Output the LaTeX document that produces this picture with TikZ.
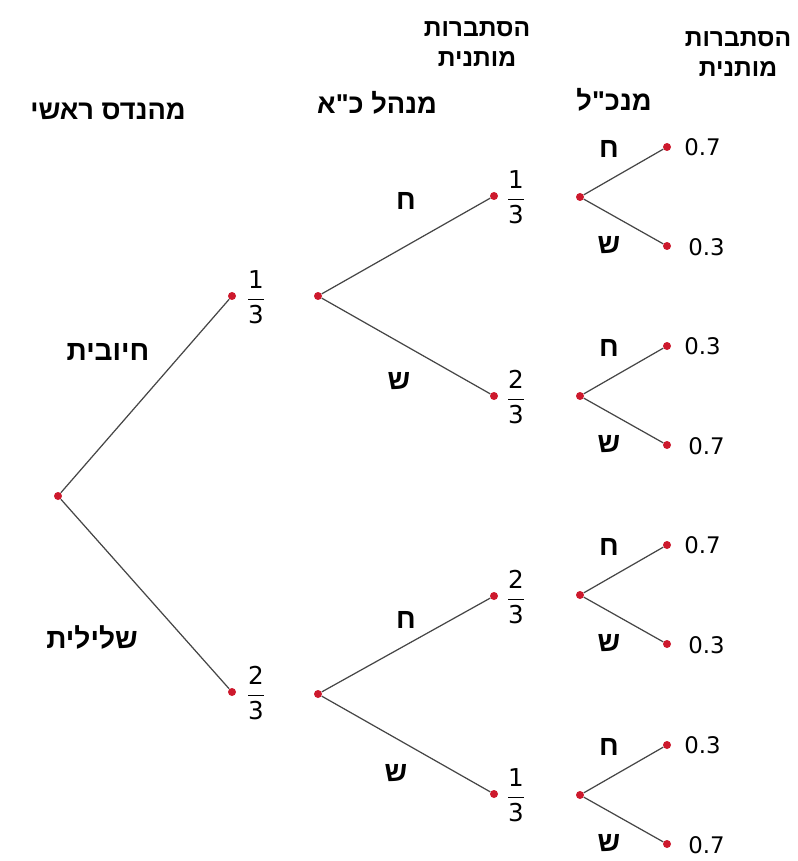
\documentclass[tikz,border=0pt]{standalone}
\usepackage{fontspec}
\setmainfont{Liberation Sans}
\newfontfamily\hebfont[Script=Hebrew]{Liberation Sans}
\newfontfamily\numfont{DejaVu Sans}
\TeXXeTstate=1
\definecolor{dotred}{RGB}{205,25,45}
\definecolor{branchgray}{RGB}{70,70,70}
\newcommand{\pfrac}[2]{$\displaystyle\frac{\mbox{#1}\rule[-2.5pt]{0pt}{2.5pt}}{\mbox{#2}\rule{0pt}{12.5pt}}$}

\begin{document}
\begin{tikzpicture}[x=0.02cm, y=-0.02cm,
  dot/.style={circle, fill=dotred, inner sep=0pt, minimum size=1.6mm},
  branch/.style={draw=branchgray, line width=0.7pt},
  head/.style={font=\hebfont\bfseries\fontsize{15.5}{18}\selectfont, align=center},
  cond/.style={font=\hebfont\bfseries\fontsize{14}{17}\selectfont, align=center},
  heb/.style={font=\hebfont\bfseries\fontsize{16}{18}\selectfont},
  prob/.style={font=\numfont\fontsize{13}{15}\selectfont, anchor=west, inner sep=0pt},
  fr/.style={font=\numfont\fontsize{14}{16}\selectfont, inner sep=0pt}]

  \useasboundingbox (0,0) rectangle (797,861);

  % כותרות
  \node[head] (hEng) at (108,111) {\beginR מהנדס ראשי\endR};
  \node[head] (hHr)  at (377,103) {\beginR מנהל כ"א\endR};
  \node[head] (hCeo) at (614,100) {\beginR מנכ"ל\endR};
  \node[cond] (hP1)  at (477,44) {\beginR הסתברות\endR\\\beginR מותנית\endR};
  \node[cond] (hP2)  at (738,54) {\beginR הסתברות\endR\\\beginR מותנית\endR};

  % מהנדס ראשי
  \node[dot] (root) at (58,496) {};
  \node[dot] (pos)  at (232,296) {};
  \node[dot] (neg)  at (232,692) {};
  \draw[branch] (root) -- (pos);
  \draw[branch] (root) -- (neg);
  \node[heb] (lPos) at (108,352) {\beginR חיובית\endR};
  \node[heb] (lNeg) at (92,637)  {\beginR שלילית\endR};
  \node[fr] (fPos) at (256,297) {\pfrac{1}{3}};
  \node[fr] (fNeg) at (256,693) {\pfrac{2}{3}};

  % מנהל כ"א
  \node[dot] (hr1)  at (318,296) {};
  \node[dot] (hr2)  at (318,694) {};
  \node[dot] (hr1a) at (494,196) {};
  \node[dot] (hr1b) at (494,396) {};
  \node[dot] (hr2a) at (494,596) {};
  \node[dot] (hr2b) at (494,794) {};
  \draw[branch] (hr1) -- (hr1a);
  \draw[branch] (hr1) -- (hr1b);
  \draw[branch] (hr2) -- (hr2a);
  \draw[branch] (hr2) -- (hr2b);
  \node[heb] at (406,201) {ח};
  \node[heb] at (399,381) {ש};
  \node[heb] at (406,620) {ח};
  \node[heb] at (396,773) {ש};
  \node[fr] (f1a) at (516,197) {\pfrac{1}{3}};
  \node[fr] (f1b) at (516,397) {\pfrac{2}{3}};
  \node[fr] (f2a) at (516,597) {\pfrac{2}{3}};
  \node[fr] (f2b) at (516,795) {\pfrac{1}{3}};

  % מנכ"ל
  \foreach \i/\y/\pa/\pb in {1/197/0.7/0.3, 2/396/0.3/0.7, 3/595/0.7/0.3, 4/795/0.3/0.7} {
    \node[dot] (ceo\i)  at (580,\y) {};
    \node[dot] (ceo\i a) at (667,\y-50) {};
    \node[dot] (ceo\i b) at (667,\y+49) {};
    \draw[branch] (ceo\i) -- (ceo\i a);
    \draw[branch] (ceo\i) -- (ceo\i b);
    \node[heb] at (609,\y-48) {ח};
    \node[heb] at (609,\y+48) {ש};
    \node[prob] at (684,\y-50) {\pa};
    \node[prob] at (688,\y+50) {\pb};
  }
\end{tikzpicture}
\end{document}
